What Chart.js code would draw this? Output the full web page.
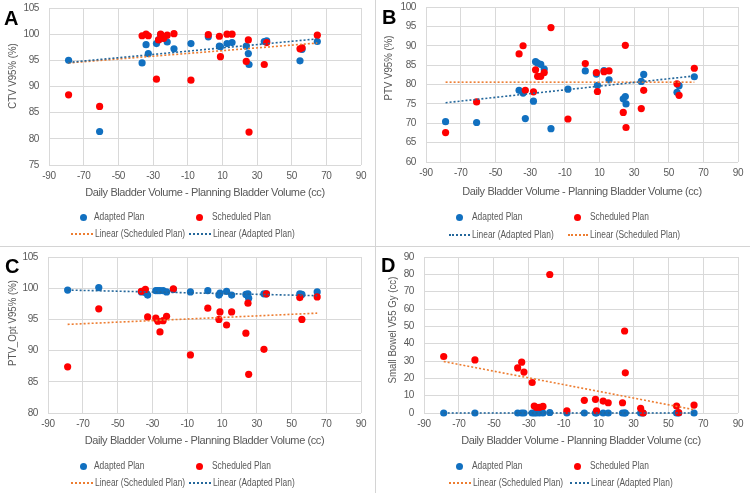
<!DOCTYPE html>
<html>
<head>
<meta charset="utf-8">
<script src="https://cdn.jsdelivr.net/npm/chart.js@4.4.1/dist/chart.umd.min.js"></script>
<style>
    html, body { margin: 0; padding: 0; background: #fff; }
    #wrap { position: relative; width: 750px; height: 493px; overflow: hidden; background: #fff; }
    .panel { position: absolute; }
    .panel canvas { position: absolute; left: 0; top: 0; }
    .letter { position: absolute; font: bold 20px "Liberation Sans", Arial, sans-serif; color: #000; line-height: 1; }
    .sep-v { position: absolute; left: 375px; top: 0; width: 1px; height: 493px; background: #d4d4d4; }
    .sep-h { position: absolute; left: 0; top: 246px; width: 750px; height: 1px; background: #d4d4d4; }
    .ldot { position: absolute; width: 7px; height: 7px; border-radius: 50%; }
    .lline { position: absolute; height: 0; border-top-style: dotted; border-top-width: 2px; }
    .ltext, .ytitle { position: absolute; white-space: nowrap; color: #595959; line-height: 1; }
</style>
</head>
<body>
<div id="wrap">
    <div class="panel" id="panel-a" style="left:0;top:0;width:375px;height:246px;"><canvas id="chart-a" width="375" height="246"></canvas></div>
    <div class="panel" id="panel-b" style="left:376px;top:0;width:374px;height:246px;"><canvas id="chart-b" width="374" height="246"></canvas></div>
    <div class="panel" id="panel-c" style="left:0;top:247px;width:375px;height:246px;"><canvas id="chart-c" width="375" height="246"></canvas></div>
    <div class="panel" id="panel-d" style="left:376px;top:247px;width:374px;height:246px;"><canvas id="chart-d" width="374" height="246"></canvas></div>
    <div class="sep-v"></div>
    <div class="sep-h"></div>
</div>
<script>
// Daily minus planning bladder volume (cc), one entry per fraction
const bladderDiff = [-78.7, -60.8, -36.3, -34.0, -32.7, -28.0, -26.8, -25.6, -23.8, -21.8, -17.9, -8.1, 1.9, 8.3, 8.9, 12.7, 15.6, 23.8, 25.0, 25.4, 34.2, 35.6, 54.8, 56.0, 64.8];

// A: CTV V95%
const ctvAdapted   = [95.0, 81.4, 94.5, 98.0, 96.3, 98.2, 98.9, 99.9, 99.2, 98.5, 97.2, 98.2, 99.5, 97.7, 97.6, 98.2, 98.4, 97.7, 96.3, 94.2, 98.6, 98.7, 94.9, 97.1, 98.6];
const ctvScheduled = [88.4, 86.2, 99.7, 100.0, 99.7, 91.4, 98.9, 100.0, 99.2, 99.8, 100.1, 91.2, 99.9, 99.6, 95.7, 100.0, 100.0, 94.8, 98.9, 81.3, 94.2, 98.4, 97.2, 97.4, 99.8];
const ctvTrendAdapted   = [94.6, 99.1];
const ctvTrendScheduled = [94.5, 98.3];

// B: PTV V95%
const ptvAdapted   = [70.4, 70.2, 78.5, 77.8, 71.2, 75.7, 85.9, 85.5, 85.2, 84.0, 68.6, 78.8, 83.5, 82.7, 79.8, 83.6, 81.2, 76.3, 76.9, 75.0, 80.8, 82.6, 78.0, 79.7, 82.0];
const ptvScheduled = [67.6, 75.5, 87.9, 90.0, 78.5, 78.1, 83.8, 82.1, 82.1, 83.1, 94.7, 71.1, 85.4, 83.1, 78.2, 83.3, 83.5, 72.8, 90.1, 68.9, 73.8, 78.5, 80.2, 77.2, 84.2];
const ptvTrendAdapted   = [75.3, 82.2];
const ptvTrendScheduled = [80.6, 80.6];

// C: PTV_Opt V95%
const ptvOptAdapted   = [99.7, 100.1, 99.4, 99.3, 98.9, 99.6, 99.6, 99.6, 99.6, 99.4, 99.8, 99.4, 99.6, 98.9, 99.2, 99.5, 98.9, 99.0, 99.1, 98.4, 99.1, 99.1, 99.1, 99.0, 99.4];
const ptvOptScheduled = [87.4, 96.7, 99.5, 99.8, 95.4, 95.2, 94.7, 93.0, 94.8, 95.5, 99.9, 89.3, 96.8, 95.0, 96.2, 94.1, 96.2, 92.8, 97.6, 86.2, 90.2, 99.1, 98.5, 95.0, 98.6];
const ptvOptTrendAdapted   = [99.7, 98.8];
const ptvOptTrendScheduled = [94.2, 96.0];

// D: Small bowel V55 Gy (cc)
const bowelAdapted   = [0, 0, 0, 0, 0, 0, 0, 0, 0, 0, 0.3, 0, 0, 0, 0, 0, 0, 0, 0, 0, 0, 0, 0, 0, 0];
const bowelScheduled = [32.6, 30.6, 26.0, 29.3, 23.6, 17.6, 4.0, 3.3, 3.3, 3.8, 79.9, 1.3, 7.3, 7.9, 1.3, 6.9, 5.9, 5.9, 47.3, 23.2, 2.7, 0.0, 4.0, 0.2, 4.6];
const bowelTrendAdapted   = [0.0, 0.0];
const bowelTrendScheduled = [29.7, 1.9];

const X_TITLE = "Daily Bladder Volume - Planning Bladder Volume (cc)";

const COLORS = {
    adapted: "#1170c0",
    scheduled: "#ff0000",
    trendAdapted: "#24679b",
    trendScheduled: "#ed7d31",
    grid: "#d9d9d9",
    text: "#595959",
};

// narrow font if the system has it, otherwise squeeze the regular one a bit
function hasFont(name) {
    const c = document.createElement("canvas").getContext("2d");
    c.font = "40px monospace";
    const a = c.measureText(X_TITLE).width;
    c.font = `40px "${name}", monospace`;
    const b = c.measureText(X_TITLE).width;
    return a !== b;
}
const NARROW = hasFont("Liberation Sans Narrow");
const FAMILY = NARROW ? "'Liberation Sans Narrow', 'Liberation Sans', sans-serif" : "'Liberation Sans', Arial, sans-serif";
const HSCALE = NARROW ? 1 : 0.84;
const CANVAS_SPACING = NARROW ? "0px" : "-0.4px";

const TICK_SIZE = NARROW ? 11.5 : 10;
const XTITLE_SIZE = NARROW ? 13 : 11;
const YTITLE_SIZE = 11.5;
const LEGEND_SIZE = 10;

const squeezeText = {
    id: "squeezeText",
    beforeDraw(chart) {
        chart.ctx.letterSpacing = CANVAS_SPACING;
    },
};

function toPoints(ys) {
    return ys.map((y, i) => ({ x: bladderDiff[i], y }));
}

function trendPoints(ends) {
    return [
        { x: bladderDiff[0], y: ends[0] },
        { x: bladderDiff[bladderDiff.length - 1], y: ends[1] },
    ];
}

function makeChart(canvasId, p) {
    const xAxisH = p.titleOffset + (XTITLE_SIZE * 1.2) / 2;
    const trendSets = [
        { label: "Linear (Adapted Plan)", data: trendPoints(p.trendAdapted), color: COLORS.trendAdapted },
        { label: "Linear (Scheduled Plan)", data: trendPoints(p.trendScheduled), color: COLORS.trendScheduled },
    ].map((t) => ({
        type: "line",
        label: t.label,
        data: t.data,
        borderColor: t.color,
        borderWidth: 1.6,
        borderDash: [2, 2],
        pointRadius: 0,
        fill: false,
        clip: false,
    }));

    return new Chart(document.getElementById(canvasId), {
        type: "scatter",
        data: {
            datasets: [
                ...trendSets,
                {
                    label: "Scheduled Plan",
                    data: toPoints(p.scheduled),
                    backgroundColor: COLORS.scheduled,
                    borderWidth: 0,
                    pointRadius: 3.6,
                    clip: false,
                },
                {
                    label: "Adapted Plan",
                    data: toPoints(p.adapted),
                    backgroundColor: COLORS.adapted,
                    borderWidth: 0,
                    pointRadius: 3.6,
                    clip: false,
                },
            ],
        },
        plugins: [squeezeText],
        options: {
            responsive: false,
            animation: false,
            events: [],
            layout: {
                autoPadding: false,
                padding: {
                    left: 0,
                    top: p.box.top,
                    right: p.w - p.box.right,
                    bottom: p.h - p.box.bottom - xAxisH,
                },
            },
            plugins: { legend: { display: false }, tooltip: { enabled: false } },
            scales: {
                x: {
                    type: "linear",
                    min: -90,
                    max: 90,
                    ticks: {
                        stepSize: 20,
                        padding: 5,
                        color: COLORS.text,
                        font: { family: FAMILY, size: TICK_SIZE },
                    },
                    grid: { color: COLORS.grid, drawTicks: false },
                    border: { display: false },
                    title: {
                        display: true,
                        text: X_TITLE,
                        color: COLORS.text,
                        font: { family: FAMILY, size: XTITLE_SIZE },
                        padding: 0,
                    },
                    afterFit: (scale) => {
                        scale.height = xAxisH;
                        scale.paddingLeft = 0;
                        scale.paddingRight = 0;
                    },
                },
                y: {
                    min: p.yMin,
                    max: p.yMax,
                    ticks: {
                        stepSize: p.yStep,
                        padding: 10,
                        color: COLORS.text,
                        font: { family: FAMILY, size: TICK_SIZE },
                    },
                    grid: { color: COLORS.grid, drawTicks: false },
                    border: { display: false },
                    afterFit: (scale) => {
                        scale.width = p.box.left;
                        scale.paddingTop = 0;
                        scale.paddingBottom = 0;
                    },
                },
            },
        },
    });
}

function addLegend(panelId, rowY, items) {
    const panel = document.getElementById(panelId);
    for (const it of items) {
        const y = rowY[it.row];
        const mark = document.createElement("div");
        if (it.kind === "dot") {
            mark.className = "ldot";
            mark.style.left = `${it.mx - 3.5}px`;
            mark.style.top = `${y - 3.5}px`;
            mark.style.background = it.color;
        } else {
            mark.className = "lline";
            mark.style.left = `${it.mx}px`;
            mark.style.width = `${it.mw}px`;
            mark.style.top = `${y - 1}px`;
            mark.style.borderTopColor = it.color;
        }
        panel.appendChild(mark);
        const t = document.createElement("span");
        t.className = "ltext";
        t.textContent = it.label;
        t.style.left = `${it.tx}px`;
        t.style.top = `${y}px`;
        t.style.fontFamily = FAMILY;
        t.style.fontSize = `${LEGEND_SIZE}px`;
        t.style.transformOrigin = "0 50%";
        t.style.transform = `translateY(-50%) scaleX(${HSCALE})`;
        panel.appendChild(t);
    }
}

// vertical axis title, centred on (cx, cy) inside the panel
function addYTitle(panelId, text, cx, cy) {
    const t = document.createElement("span");
    t.className = "ytitle";
    t.textContent = text;
    t.style.left = `${cx}px`;
    t.style.top = `${cy}px`;
    t.style.fontFamily = FAMILY;
    t.style.fontSize = `${YTITLE_SIZE}px`;
    t.style.transform = `translate(-50%, -50%) rotate(-90deg) scaleX(${HSCALE})`;
    document.getElementById(panelId).appendChild(t);
}

function addLetter(panelId, letter, x, y) {
    const el = document.createElement("div");
    el.className = "letter";
    el.textContent = letter;
    el.style.left = `${x}px`;
    el.style.top = `${y}px`;
    document.getElementById(panelId).appendChild(el);
}

makeChart("chart-a", {
    w: 375, h: 246, box: { left: 49, right: 361, top: 8, bottom: 165 }, titleOffset: 28,
    yMin: 75, yMax: 105, yStep: 5,
    adapted: ctvAdapted, scheduled: ctvScheduled,
    trendAdapted: ctvTrendAdapted, trendScheduled: ctvTrendScheduled,
});
makeChart("chart-b", {
    w: 374, h: 246, box: { left: 50, right: 362, top: 7, bottom: 162 }, titleOffset: 30,
    yMin: 60, yMax: 100, yStep: 5,
    adapted: ptvAdapted, scheduled: ptvScheduled,
    trendAdapted: ptvTrendAdapted, trendScheduled: ptvTrendScheduled,
});
makeChart("chart-c", {
    w: 375, h: 246, box: { left: 48, right: 361, top: 10, bottom: 166 }, titleOffset: 28,
    yMin: 80, yMax: 105, yStep: 5,
    adapted: ptvOptAdapted, scheduled: ptvOptScheduled,
    trendAdapted: ptvOptTrendAdapted, trendScheduled: ptvOptTrendScheduled,
});
makeChart("chart-d", {
    w: 374, h: 246, box: { left: 48, right: 362, top: 10, bottom: 166 }, titleOffset: 28,
    yMin: 0, yMax: 90, yStep: 10,
    adapted: bowelAdapted, scheduled: bowelScheduled,
    trendAdapted: bowelTrendAdapted, trendScheduled: bowelTrendScheduled,
});

addYTitle("panel-a", "CTV V95% (%)", 13, 76);
addYTitle("panel-b", "PTV V95% (%)", 12.5, 68);
addYTitle("panel-c", "PTV_Opt V95% (%)", 13, 76);
addYTitle("panel-d", "Small Bowel V55 Gy (cc)", 16.5, 83);

// legends: A, C and D list the scheduled trend first, B lists the adapted trend first
const legendSchedFirst = [
    { row: 0, kind: "dot", color: COLORS.adapted, mx: 83, tx: 94, label: "Adapted Plan" },
    { row: 0, kind: "dot", color: COLORS.scheduled, mx: 199, tx: 212, label: "Scheduled Plan" },
    { row: 1, kind: "line", color: COLORS.trendScheduled, mx: 71, mw: 22, tx: 95, label: "Linear (Scheduled Plan)" },
    { row: 1, kind: "line", color: COLORS.trendAdapted, mx: 189, mw: 22, tx: 213, label: "Linear (Adapted Plan)" },
];
const legendAdaptFirst = [
    { row: 0, kind: "dot", color: COLORS.adapted, mx: 83, tx: 96, label: "Adapted Plan" },
    { row: 0, kind: "dot", color: COLORS.scheduled, mx: 201, tx: 214, label: "Scheduled Plan" },
    { row: 1, kind: "line", color: COLORS.trendAdapted, mx: 73, mw: 21, tx: 96, label: "Linear (Adapted Plan)" },
    { row: 1, kind: "line", color: COLORS.trendScheduled, mx: 192, mw: 20, tx: 214, label: "Linear (Scheduled Plan)" },
];
const legendD = [
    { row: 0, kind: "dot", color: COLORS.adapted, mx: 83, tx: 96, label: "Adapted Plan" },
    { row: 0, kind: "dot", color: COLORS.scheduled, mx: 201, tx: 214, label: "Scheduled Plan" },
    { row: 1, kind: "line", color: COLORS.trendScheduled, mx: 73, mw: 22, tx: 97, label: "Linear (Scheduled Plan)" },
    { row: 1, kind: "line", color: COLORS.trendAdapted, mx: 194, mw: 19, tx: 215, label: "Linear (Adapted Plan)" },
];

addLegend("panel-a", [217, 234], legendSchedFirst);
addLegend("panel-b", [217, 235], legendAdaptFirst);
addLegend("panel-c", [219, 236], legendSchedFirst);
addLegend("panel-d", [219, 236], legendD);

addLetter("panel-a", "A", 4, 8);
addLetter("panel-b", "B", 6, 7);
addLetter("panel-c", "C", 5, 9);
addLetter("panel-d", "D", 5, 8);
</script>
</body>
</html>
